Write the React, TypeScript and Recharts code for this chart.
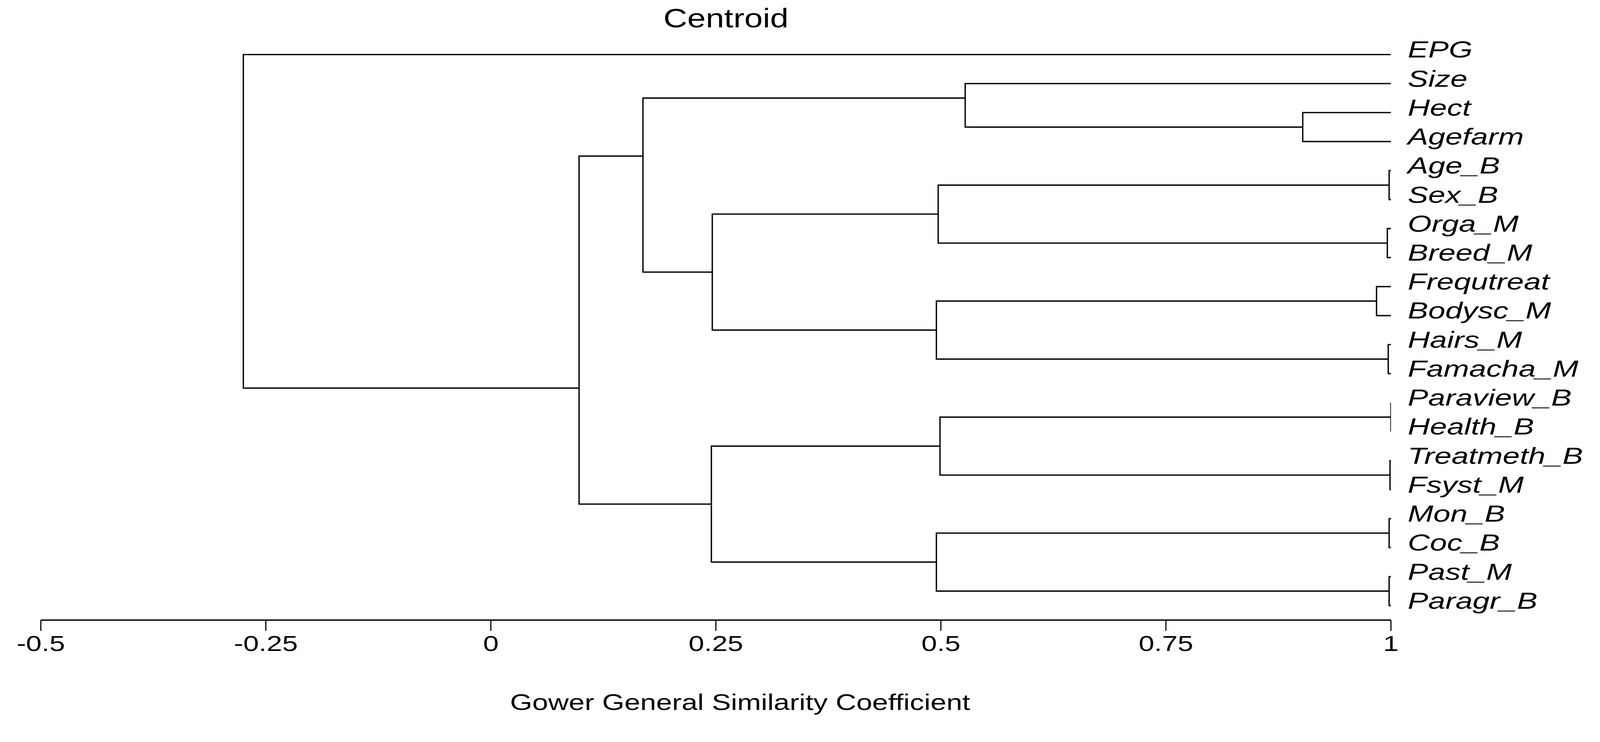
import React from "react";
import { ComposedChart, Scatter, XAxis, YAxis } from "recharts";

// leaf labels, top to bottom
const leaves = [
  "EPG", "Size", "Hect", "Agefarm", "Age_B", "Sex_B", "Orga_M", "Breed_M",
  "Frequtreat", "Bodysc_M", "Hairs_M", "Famacha_M", "Paraview_B", "Health_B",
  "Treatmeth_B", "Fsyst_M", "Mon_B", "Coc_B", "Past_M", "Paragr_B",
];

// merges in order; "L<i>" = leaf i, "N<j>" = earlier merge j
const mergeA = ["L4", "L6", "L10", "L12", "L14", "L16", "L18", "L8", "L2", "L1", "N0", "N7", "N3", "N5", "N10", "N12", "N9", "N16", "L0"];
const mergeB = ["L5", "L7", "L11", "L13", "L15", "L17", "L19", "L9", "L3", "N8", "N1", "N2", "N4", "N6", "N11", "N13", "N14", "N15", "N17"];
// similarity level of each merge
const mergeHeight = [0.998, 0.996, 0.997, 1.0, 0.999, 0.998, 0.998, 0.984, 0.902, 0.527, 0.497, 0.495, 0.499, 0.495, 0.246, 0.245, 0.169, 0.098, -0.275];
// row where the merge's branch leaves it (as drawn)
const mergeRow = [4.5, 6.5, 10.5, 12.5, 14.5, 16.5, 18.5, 8.5, 2.5, 1.5, 5.5, 9.5, 13.5, 17.5, 7.5, 15.5, 3.5, 11.5, 5.75];

const xTicks = [-0.5, -0.25, 0, 0.25, 0.5, 0.75, 1];
const rows = leaves.map((_, i) => i);

const W = 4194;
const H = 1899;
const FONT = "'Liberation Sans', Arial, sans-serif";

const pos = (id: string) => {
  const k = Number(id.slice(1));
  return id[0] === "L" ? { x: 1, y: k } : { x: mergeHeight[k], y: mergeRow[k] };
};

const segments = mergeHeight.map((h, i) => {
  const a = pos(mergeA[i]);
  const b = pos(mergeB[i]);
  return [a, { x: h, y: a.y }, { x: h, y: b.y }, b];
});

const XTick = (props: any) => {
  const { x, y, payload } = props;
  return (
    <text
      transform={`translate(${x},${y + 51}) scale(1.29,1)`}
      textAnchor="middle"
      fontSize={57}
      fontFamily={FONT}
      fill="#000"
    >
      {String(payload.value)}
    </text>
  );
};

const LeafTick = (props: any) => {
  const { x, y, payload } = props;
  return (
    <text
      transform={`translate(${x},${y + 8}) scale(1.32,1)`}
      textAnchor="start"
      fontSize={61}
      fontStyle="italic"
      fontFamily={FONT}
      fill="#000"
    >
      {leaves[payload.value]}
    </text>
  );
};

export default function App() {
  // fit the fixed-size drawing into whatever viewport we really get
  const vw = typeof document !== "undefined" ? document.documentElement.clientWidth || W : W;
  const vh = typeof window !== "undefined" ? window.innerHeight || H : H;
  const s = Math.min(vw / W, vh / H);

  return (
    <div
      style={{
        position: "absolute",
        left: 0,
        top: 0,
        width: W,
        height: H,
        background: "#fff",
        transform: `scale(${s})`,
        transformOrigin: "0 0",
      }}
    >
      <ComposedChart width={W} height={H} margin={{ top: 105, right: 0, bottom: 0, left: 107 }}>
        <XAxis
          type="number"
          dataKey="x"
          domain={[-0.5, 1]}
          ticks={xTicks}
          interval={0}
          allowDataOverflow
          height={274}
          axisLine={{ stroke: "#000", strokeWidth: 3.5 }}
          tickLine={{ stroke: "#000", strokeWidth: 3 }}
          tickSize={28}
          tickMargin={2}
          tick={<XTick />}
        />
        <YAxis
          type="number"
          dataKey="y"
          orientation="right"
          domain={[-0.5, 19.5]}
          reversed
          ticks={rows}
          interval={0}
          width={548}
          axisLine={false}
          tickLine={false}
          tickSize={0}
          tickMargin={44}
          tick={<LeafTick />}
        />
        {segments.map((seg, i) => (
          <Scatter
            key={i}
            data={seg}
            line={{ stroke: "#000", strokeWidth: 3.5 }}
            shape={() => <g />}
            isAnimationActive={false}
          />
        ))}
      </ComposedChart>
      <svg
        width={W}
        height={H}
        style={{ position: "absolute", left: 0, top: 0, pointerEvents: "none" }}
      >
        <text transform="translate(1903,72) scale(1.24,1)" textAnchor="middle" fontSize={70} fontFamily={FONT} fill="#000">
          Centroid
        </text>
        <text transform="translate(1940,1860) scale(1.27,1)" textAnchor="middle" fontSize={59} fontFamily={FONT} fill="#000">
          Gower General Similarity Coefficient
        </text>
      </svg>
    </div>
  );
}
